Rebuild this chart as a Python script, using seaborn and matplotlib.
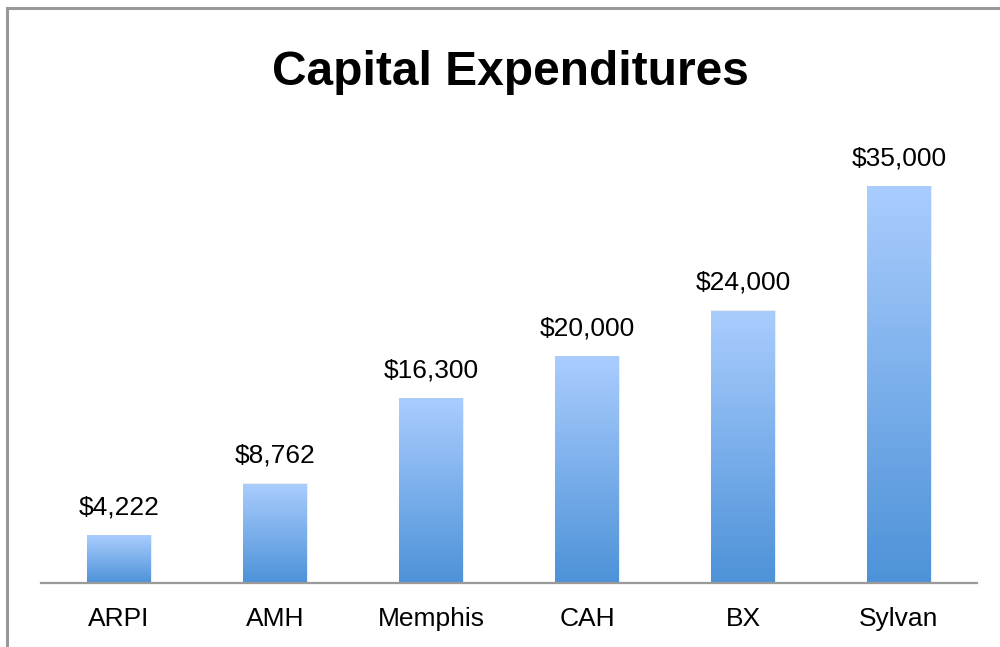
import matplotlib
matplotlib.use("Agg")
import matplotlib.pyplot as plt
import numpy as np
import pandas as pd
import seaborn as sns
from matplotlib.patches import Rectangle
from matplotlib.colors import LinearSegmentedColormap

categories = ["ARPI", "AMH", "Memphis", "CAH", "BX", "Sylvan"]
values = [4222, 8762, 16300, 20000, 24000, 35000]
value_labels = ["$4,222", "$8,762", "$16,300", "$20,000", "$24,000", "$35,000"]
title = "Capital Expenditures"

sns.set_theme(style="white")
plt.rcParams["font.family"] = ["Liberation Sans", "DejaVu Sans"]

df = pd.DataFrame({"cat": categories, "val": values})

fig = plt.figure(figsize=(10, 6.47), dpi=100)
W, H = 1000, 647
ax = fig.add_axes([41 / W, (H - 583) / H, (977 - 41) / W, (583 - 120) / H])

sns.barplot(data=df, x="cat", y="val", ax=ax, width=0.404, color="#7fb0ec",
            saturation=1, edgecolor="none")

ax.set_xlim(-0.5, len(categories) - 0.5)
ymax = (583 - 120) / ((583 - 186) / 35000)
ax.set_ylim(0, ymax)

cmap = LinearSegmentedColormap.from_list("g", ["#4d92d8", "#aacdfe"])
grad = np.linspace(0, 1, 256).reshape(-1, 1)
for p in ax.patches:
    x0, w, h = p.get_x(), p.get_width(), p.get_height()
    # subtle soft shadow
    sh = Rectangle((x0 - 0.004, 0), w + 0.014, h + 40,
                   facecolor="black", alpha=0.07, edgecolor="none", zorder=1)
    ax.add_patch(sh)
    im = ax.imshow(grad, cmap=cmap, aspect="auto", origin="lower",
                   extent=(x0, x0 + w, 0, h), zorder=3)
    im.set_clip_path(p)
    p.set_zorder(2)

for i, (v, lab) in enumerate(zip(values, value_labels)):
    ax.annotate(lab, (i, v), xytext=(0, 15), textcoords="offset points",
                ha="center", va="baseline", fontsize=19, color="black")

for s in ["top", "right", "left"]:
    ax.spines[s].set_visible(False)
ax.spines["bottom"].set_color("#9a9a9a")
ax.spines["bottom"].set_linewidth(1.6)
ax.spines["bottom"].set_zorder(5)
ax.set_yticks([])
ax.set_xlabel("")
ax.set_ylabel("")
ax.tick_params(axis="x", length=0, pad=17, labelsize=19, labelcolor="black")

fig.text(0.51, (H - 85) / H, title, ha="center", va="baseline",
         fontsize=34.5, fontweight="bold", color="black")

# outer frame (only top/left visible within the canvas)
frame = Rectangle((7 / W, -0.1), 1.2, (H - 8) / H + 0.1, transform=fig.transFigure,
                  fill=False, edgecolor="#999999", linewidth=2.2)
fig.patches.append(frame)

fig.savefig("out.png", dpi=100, facecolor="white")
